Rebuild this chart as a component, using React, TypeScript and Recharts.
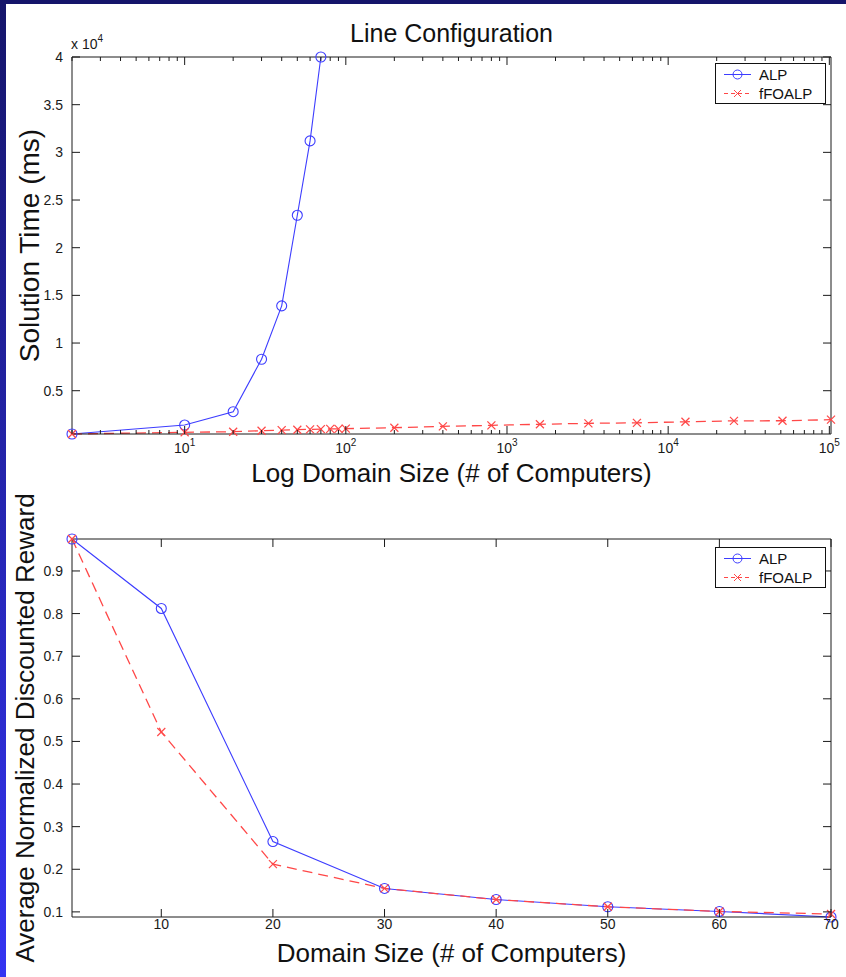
import React from 'react';
import { LineChart, Line, XAxis, YAxis, Legend } from 'recharts';

const FONT = '"Liberation Sans", Arial, Helvetica, sans-serif';
const INK = '#1a1a1a';
const ALP_BLUE = '#3d3dff';
const FO_RED = '#ff4747';
const FO_DASH = '10 6';

// top panel: solution time vs domain size (log x)
const alpSizes = [2, 10, 20, 30, 40, 50, 60, 70];
const alpTimes = [460, 1400, 2800, 8300, 13900, 23400, 31200, 40000];
const foSizes = [2, 10, 20, 30, 40, 50, 60, 70, 80, 90, 100, 200, 400, 800, 1600, 3200, 6400, 12800, 25600, 51200, 102400];
const foTimes = [460, 640, 700, 800, 870, 910, 950, 970, 990, 1000, 1020, 1120, 1260, 1370, 1480, 1580, 1630, 1740, 1840, 1850, 1960];
const timeTicks = [5000, 10000, 15000, 20000, 25000, 30000, 35000, 40000];
const logMajorTicks = [10, 100, 1000, 10000, 100000];
const logMinorTicks = [2, 3, 4, 5, 6, 7, 8, 9].flatMap((m) => [1, 10, 100, 1000, 10000].map((d) => m * d));
const logTicks = [...logMinorTicks, ...logMajorTicks].sort((a, b) => a - b);

// bottom panel: reward vs domain size
const rewardSizes = [2, 10, 20, 30, 40, 50, 60, 70];
const alpReward = [0.975, 0.812, 0.265, 0.155, 0.129, 0.112, 0.101, 0.088];
const foReward = [0.975, 0.522, 0.212, 0.155, 0.129, 0.112, 0.101, 0.095];
const rewardTicks = [0.1, 0.2, 0.3, 0.4, 0.5, 0.6, 0.7, 0.8, 0.9];
const sizeTicks = [10, 20, 30, 40, 50, 60, 70];

const legendItems = [
  { name: 'ALP', color: ALP_BLUE, dash: undefined, marker: 'circle' },
  { name: 'fFOALP', color: FO_RED, dash: '4 3', marker: 'cross' },
];

const toRows = (xs: number[], ys: number[]) => xs.map((x, i) => ({ x, y: ys[i] }));

const CircleDot = (props: any) => {
  const { cx, cy } = props;
  if (cx == null || cy == null) return null;
  return <circle cx={cx} cy={cy} r={5} fill="none" stroke={ALP_BLUE} strokeWidth={1.1} />;
};

const CrossDot = (props: any) => {
  const { cx, cy } = props;
  if (cx == null || cy == null) return null;
  const s = 4;
  return (
    <g stroke={FO_RED} strokeWidth={1.2}>
      <line x1={cx - s} y1={cy - s} x2={cx + s} y2={cy + s} />
      <line x1={cx - s} y1={cy + s} x2={cx + s} y2={cy - s} />
    </g>
  );
};

const tickText = { fontSize: 14, fontFamily: FONT, fill: INK };

const LogBottomTick = ({ x, y, payload }: any) => {
  const v = payload.value;
  const exp = Math.round(Math.log10(v));
  const major = Math.abs(Math.log10(v) - exp) < 1e-9;
  return (
    <g>
      <line x1={x} x2={x} y1={y} y2={y - (major ? 8 : 4)} stroke={INK} />
      {major && (
        <text x={x} y={y + 19} textAnchor="middle" {...tickText}>
          10<tspan dy={-7} fontSize={10}>{exp}</tspan>
        </text>
      )}
    </g>
  );
};

const LogTopTick = ({ x, y, payload }: any) => {
  const v = payload.value;
  const major = Math.abs(Math.log10(v) - Math.round(Math.log10(v))) < 1e-9;
  return <line x1={x} x2={x} y1={y} y2={y + (major ? 8 : 4)} stroke={INK} />;
};

const LinBottomTick = ({ x, y, payload }: any) => (
  <g>
    <line x1={x} x2={x} y1={y} y2={y - 8} stroke={INK} />
    <text x={x} y={y + 12} textAnchor="middle" {...tickText}>{payload.value}</text>
  </g>
);

const LinTopTick = ({ x, y }: any) => <line x1={x} x2={x} y1={y} y2={y + 8} stroke={INK} />;

const makeLeftTick = (fmt: (v: number) => string) => ({ x, y, payload }: any) => (
  <g>
    <line x1={x} x2={x + 8} y1={y} y2={y} stroke={INK} />
    <text x={x - 9} y={y} textAnchor="end" dominantBaseline="central" {...tickText}>{fmt(payload.value)}</text>
  </g>
);

const RightTick = ({ x, y }: any) => <line x1={x} x2={x - 8} y1={y} y2={y} stroke={INK} />;

const SideTitle = ({ viewBox, text, size, cx }: any) => {
  const cy = viewBox.y + viewBox.height / 2;
  return (
    <text x={cx} y={cy} transform={`rotate(-90, ${cx}, ${cy})`} textAnchor="middle" dominantBaseline="central"
      fontSize={size} fontFamily={FONT} fill="#111">{text}</text>
  );
};

const BottomTitle = ({ viewBox, text, dy }: any) => (
  <text x={viewBox.x + viewBox.width / 2} y={viewBox.y + dy} textAnchor="middle" dominantBaseline="central"
    fontSize={26} fontFamily={FONT} fill="#111">{text}</text>
);

// viewBox here is the 1px-high top axis band; its bottom edge is the plot top
const TopTitle = ({ viewBox }: any) => {
  const top = viewBox.y + viewBox.height;
  return (
    <g fontFamily={FONT} fill="#111">
      <text x={viewBox.x + viewBox.width / 2} y={top - 24} textAnchor="middle" dominantBaseline="central" fontSize={25}>
        Line Configuration
      </text>
      <text x={viewBox.x - 1} y={top - 8} fontSize={14} fill={INK}>
        x 10<tspan dy={-7} fontSize={10}>4</tspan>
      </text>
    </g>
  );
};

const LegendBox = () => (
  <div style={{ width: 109, height: 38, border: '1px solid #111', background: '#fff', fontFamily: FONT, fontSize: 15, color: '#111', paddingTop: 1 }}>
    {legendItems.map((it) => (
      <div key={it.name} style={{ display: 'flex', alignItems: 'center', height: 19 }}>
        <svg width={43} height={19} style={{ display: 'block' }}>
          <line x1={8} x2={35} y1={9.5} y2={9.5} stroke={it.color} strokeDasharray={it.dash} />
          {it.marker === 'circle' ? (
            <circle cx={21.5} cy={9.5} r={4.5} fill="none" stroke={it.color} />
          ) : (
            <g stroke={it.color}>
              <line x1={18} y1={6} x2={25} y2={13} />
              <line x1={18} y1={13} x2={25} y2={6} />
            </g>
          )}
        </svg>
        <span>{it.name}</span>
      </div>
    ))}
  </div>
);

// ALP is drawn on the bottom/left axes, fFOALP on the mirrored top/right axes (same domains)
const TimeChart = () => (
  <LineChart width={846} height={490} margin={{ top: 56, right: 14, bottom: 0, left: 0 }}>
    <XAxis xAxisId="main" dataKey="x" type="number" scale="log" domain={[2, 102400]} ticks={logTicks}
      interval={0} tickSize={0} tickMargin={0} tickLine={false} height={56} stroke={INK} tick={<LogBottomTick />}
      label={<BottomTitle text="Log Domain Size (# of Computers)" dy={39} />} />
    <XAxis xAxisId="top" dataKey="x" orientation="top" type="number" scale="log" domain={[2, 102400]} ticks={logTicks}
      interval={0} tickSize={0} tickMargin={0} tickLine={false} height={1} stroke={INK} tick={<LogTopTick />}
      label={<TopTitle />} />
    <YAxis yAxisId="main" type="number" domain={[460, 40000]} ticks={timeTicks} interval={0}
      tickSize={0} tickMargin={0} tickLine={false} width={72} stroke={INK}
      tick={makeLeftTick((v) => String(v / 10000))} label={<SideTitle text="Solution Time (ms)" size={28} cx={29} />} />
    <YAxis yAxisId="right" orientation="right" type="number" domain={[460, 40000]} ticks={timeTicks}
      interval={0} tickSize={0} tickMargin={0} tickLine={false} width={1} stroke={INK} tick={<RightTick />} />
    <Legend layout="vertical" align="center" verticalAlign="middle" content={<LegendBox />}
      wrapperStyle={{ position: 'absolute', left: 715, top: 63, width: 111, height: 40 }} />
    <Line xAxisId="main" yAxisId="main" data={toRows(alpSizes, alpTimes)} dataKey="y" name="ALP" stroke={ALP_BLUE}
      strokeWidth={1.1} dot={<CircleDot />} activeDot={false} isAnimationActive={false} />
    <Line xAxisId="top" yAxisId="right" data={toRows(foSizes, foTimes)} dataKey="y" name="fFOALP" stroke={FO_RED}
      strokeWidth={1.3} strokeDasharray={FO_DASH} dot={<CrossDot />} activeDot={false} isAnimationActive={false} />
  </LineChart>
);

const RewardChart = () => (
  <LineChart width={846} height={487} margin={{ top: 48, right: 14, bottom: 0, left: 0 }}>
    <XAxis xAxisId="main" dataKey="x" type="number" domain={[2, 70]} ticks={sizeTicks} interval={0}
      tickSize={0} tickMargin={0} tickLine={false} height={60} stroke={INK} tick={<LinBottomTick />}
      label={<BottomTitle text="Domain Size (# of Computers)" dy={36} />} />
    <XAxis xAxisId="top" dataKey="x" orientation="top" type="number" domain={[2, 70]} ticks={sizeTicks} interval={0}
      tickSize={0} tickMargin={0} tickLine={false} height={1} stroke={INK} tick={<LinTopTick />} />
    <YAxis yAxisId="main" type="number" domain={[0.088, 0.975]} ticks={rewardTicks} interval={0}
      tickSize={0} tickMargin={0} tickLine={false} width={72} stroke={INK}
      tick={makeLeftTick((v) => v.toFixed(1))}
      label={<SideTitle text="Average Normalized Discounted Reward" size={26} cx={25} />} />
    <YAxis yAxisId="right" orientation="right" type="number" domain={[0.088, 0.975]} ticks={rewardTicks}
      interval={0} tickSize={0} tickMargin={0} tickLine={false} width={1} stroke={INK} tick={<RightTick />} />
    <Legend layout="vertical" align="center" verticalAlign="middle" content={<LegendBox />}
      wrapperStyle={{ position: 'absolute', left: 715, top: 57, width: 111, height: 40 }} />
    <Line xAxisId="main" yAxisId="main" data={toRows(rewardSizes, alpReward)} dataKey="y" name="ALP" stroke={ALP_BLUE}
      strokeWidth={1.1} dot={<CircleDot />} activeDot={false} isAnimationActive={false} />
    <Line xAxisId="top" yAxisId="right" data={toRows(rewardSizes, foReward)} dataKey="y" name="fFOALP" stroke={FO_RED}
      strokeWidth={1.3} strokeDasharray={FO_DASH} dot={<CrossDot />} activeDot={false} isAnimationActive={false} />
  </LineChart>
);

export default function App() {
  return (
    <div style={{ position: 'absolute', left: 0, top: 0, width: 846, height: 977, background: '#fff', overflow: 'hidden' }}>
      <div style={{ position: 'absolute', left: 0, top: 0, width: 846, height: 490 }}>
        <TimeChart />
      </div>
      <div style={{ position: 'absolute', left: 0, top: 490, width: 846, height: 487 }}>
        <RewardChart />
      </div>
      <div style={{ position: 'absolute', left: 0, top: 0, width: 846, height: 4, background: '#15156a' }} />
      <div style={{ position: 'absolute', left: 0, top: 0, width: 6, height: 977, background: 'linear-gradient(#15156a, #3434f2)' }} />
    </div>
  );
}
